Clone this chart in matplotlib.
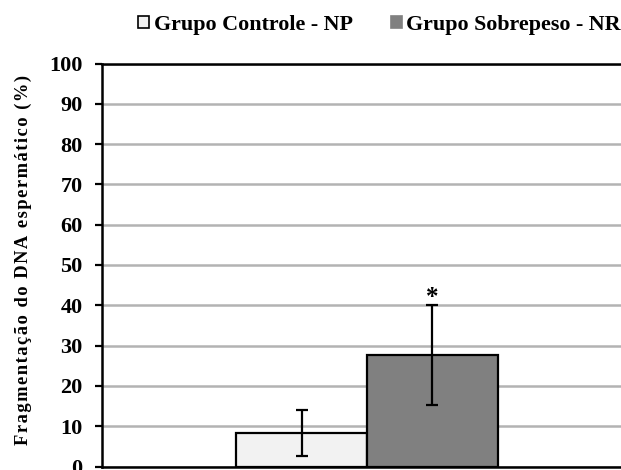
import matplotlib.pyplot as plt
from matplotlib.patches import Patch

# data
groups = ['Grupo Controle - NP', 'Grupo Sobrepeso - NR']
means = [8.3, 27.6]
errors = [5.6, 12.4]
colors = ['#f2f2f2', '#808080']
yticks = list(range(0, 101, 10))
ylabel = 'Fragmentação do DNA espermático (%)'

plt.rcParams['font.family'] = ['Liberation Serif', 'DejaVu Serif']
plt.rcParams['font.weight'] = 'bold'

fig = plt.figure(figsize=(6.21, 4.70), dpi=100)
W, H = 621, 470
left, right, top, bottom = 102, 632, 63.5, 466.5
ax = fig.add_axes([left / W, 1 - bottom / H, (right - left) / W, (bottom - top) / H])

width = 0.247
xpos = [-width / 2, width / 2]
for x, m, e, c in zip(xpos, means, errors, colors):
    ax.bar(x, m, width=width, color=c, edgecolor='black', linewidth=1.6, zorder=3)
    ax.errorbar(x, m, yerr=e, fmt='none', ecolor='black', elinewidth=1.6,
                capsize=4.5, capthick=1.6, zorder=4)

# significance marker
ax.text(xpos[1], means[1] + errors[1] - 0.8, '*', ha='center', va='bottom',
        fontsize=18, fontweight='bold')

ax.set_xlim(-0.5, 0.5)
ax.set_ylim(0, 100)
ax.set_yticks(yticks)
ax.set_yticklabels([str(t) for t in yticks], fontsize=16, fontweight='bold')
ax.set_xticks([])
ax.tick_params(axis='y', direction='out', length=5, width=1.6, pad=9)

ax.grid(axis='y', color='#b3b3b3', linewidth=1.8, zorder=0)
ax.set_axisbelow(True)
for s in ['left', 'bottom', 'top']:
    ax.spines[s].set_linewidth(1.8)
    ax.spines[s].set_color('black')
ax.spines['right'].set_visible(False)

# slightly letter-spaced axis title, as in the reference
spaced = '\u200a'.join(ylabel)
ax.set_ylabel(spaced, fontsize=13.3, fontweight='bold')
ax.yaxis.set_label_coords(-70 / (right - left), 0.512)

handles = [Patch(facecolor=colors[0], edgecolor='black', linewidth=1.2),
           Patch(facecolor=colors[1], edgecolor=colors[1], linewidth=1.2)]
fig.legend(handles, groups, ncol=2, loc='center', bbox_to_anchor=(379.5 / W, 1 - 25 / H),
           frameon=False, prop={'weight': 'bold', 'size': 15.8},
           handlelength=0.5, handleheight=0.5, handletextpad=0.2, columnspacing=1.73)

fig.savefig('out.png', dpi=100)
